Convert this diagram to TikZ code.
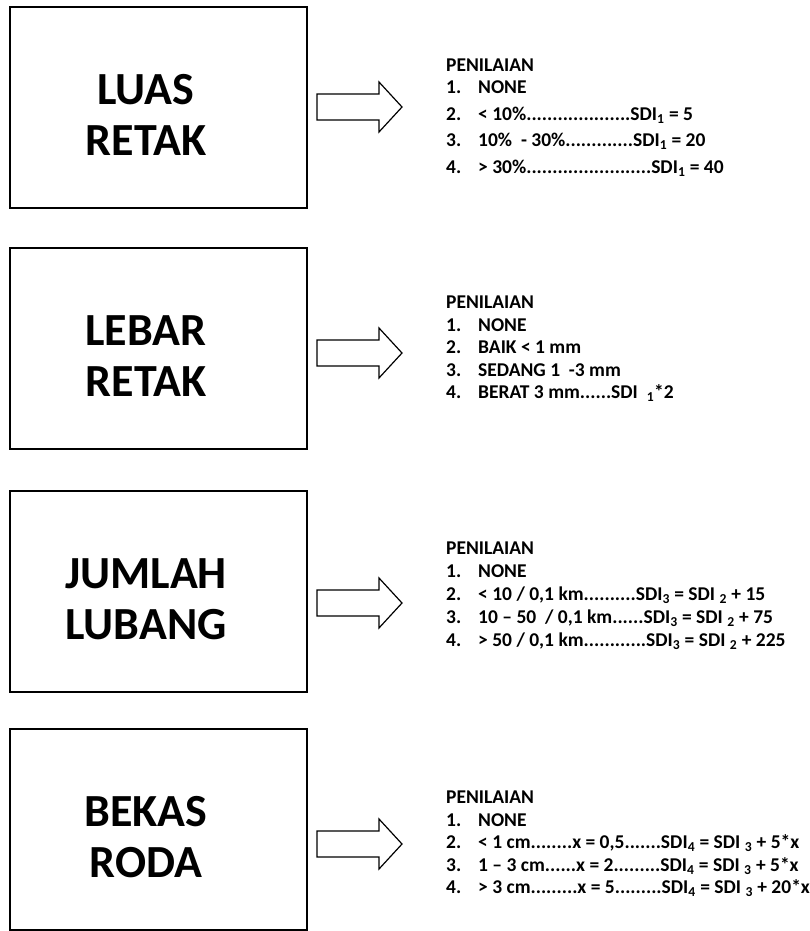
\documentclass[tikz,border=0pt]{standalone}
\usepackage{fontspec}
\setmainfont{Carlito}
\usepackage{tikz}
\usetikzlibrary{positioning,calc}

\newcommand{\nr}[1]{\makebox[32pt][l]{#1}}

\tikzset{
  box/.style={draw=black, line width=1.4pt},
  title/.style={font=\bfseries\fontsize{46}{51}\selectfont, align=center, inner sep=0pt},
  list/.style={font=\bfseries\fontsize{19.5}{22.5}\selectfont, align=left, anchor=north west, inner sep=0pt},
  blockarrow/.style={draw=black, line width=1.2pt, line join=miter}
}

\begin{document}
\begin{tikzpicture}[x=1pt, y=-1pt]
		\useasboundingbox (0,0) rectangle (809,931);
		
		% criteria boxes
		\draw[box] (10,7) rectangle (307,208);
		\node[title] (luas) at (146,115) {LUAS\\RETAK};
		
		\draw[box] (10,248) rectangle (307,449);
		\node[title] (lebar) at (146,356) {LEBAR\\RETAK};
		
		\draw[box] (10,491) rectangle (307,692);
		\node[title] (jumlah) at (146,599) {JUMLAH\\LUBANG};
		
		\draw[box] (10,729) rectangle (307,930);
		\node[title] (bekas) at (146,837) {BEKAS\\RODA};
		
		% arrows
		\draw[blockarrow] (317,94) -- (379,94) -- (379,82) -- (402,107) -- (379,132) -- (379,120) -- (317,120) -- cycle;
		\draw[blockarrow] (317,340) -- (379,340) -- (379,328) -- (402,353) -- (379,378) -- (379,366) -- (317,366) -- cycle;
		\draw[blockarrow] (317,590) -- (379,590) -- (379,578) -- (402,603) -- (379,628) -- (379,616) -- (317,616) -- cycle;
		\draw[blockarrow] (317,831) -- (379,831) -- (379,819) -- (402,844) -- (379,869) -- (379,857) -- (317,857) -- cycle;
		
		% scores
		\node[list] (pen1) at (446,59) {PENILAIAN\\[-0.5pt]
			\nr{1.}NONE\\[4pt]
			\nr{2.}< 10\%....................SDI\textsubscript{1} = 5\\[4pt]
			\nr{3.}10\%~ - 30\%.............SDI\textsubscript{1} = 20\\[4pt]
			\nr{4.}> 30\%........................SDI\textsubscript{1} = 40};
		
		\node[list] (pen2) at (446,296) {PENILAIAN\\
			\nr{1.}NONE\\
			\nr{2.}BAIK < 1 mm\\
			\nr{3.}SEDANG 1~ -3 mm\\
			\nr{4.}BERAT 3 mm......SDI~~\textsubscript{1}*2};
		
		\node[list] (pen3) at (446,542) {PENILAIAN\\
			\nr{1.}NONE\\[0.5pt]
			\nr{2.}< 10 / 0,1 km..........SDI\textsubscript{3} = SDI \textsubscript{2} + 15\\[0.5pt]
			\nr{3.}10 -- 50~ / 0,1 km......SDI\textsubscript{3} = SDI \textsubscript{2} + 75\\[0.5pt]
			\nr{4.}> 50 / 0,1 km............SDI\textsubscript{3} = SDI \textsubscript{2} + 225};
		
		\node[list] (pen4) at (446,791) {PENILAIAN\\
			\nr{1.}NONE\\
			\nr{2.}< 1 cm........x = 0,5.......SDI\textsubscript{4} = SDI \textsubscript{3} + 5*x\\
			\nr{3.}1 -- 3 cm......x = 2.........SDI\textsubscript{4} = SDI \textsubscript{3} + 5*x\\
			\nr{4.}> 3 cm.........x = 5.........SDI\textsubscript{4} = SDI \textsubscript{3} + 20*x};
\end{tikzpicture}
\end{document}
